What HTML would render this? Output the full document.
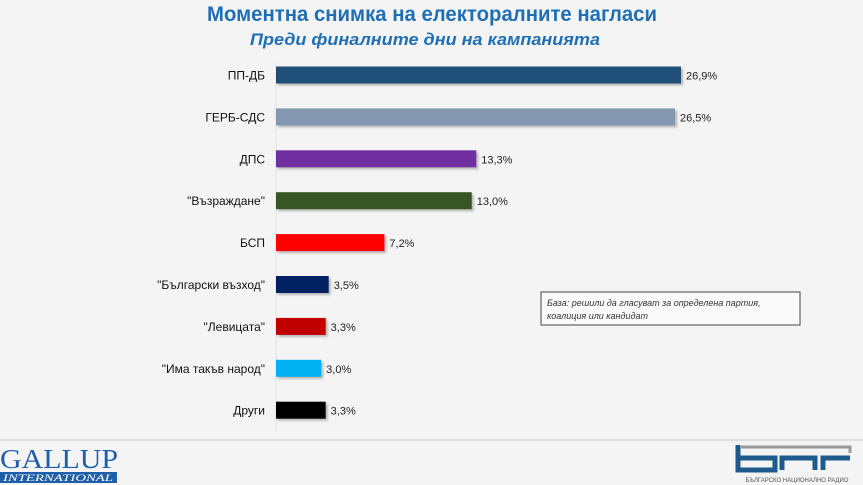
<!DOCTYPE html>
<html><head><meta charset="utf-8"><style>
body{margin:0;background:#f4f4f4;width:863px;height:485px;overflow:hidden;font-family:"Liberation Sans","DejaVu Sans",sans-serif}
svg{display:block}
</style></head><body>
<svg width="863" height="485">
<rect width="863" height="485" fill="#f4f4f4"/>
<text x="432" y="21" text-anchor="middle" font-size="21" font-weight="bold" fill="#1f6fb5" textLength="450" lengthAdjust="spacingAndGlyphs">Моментна снимка на електоралните нагласи</text>
<text x="425" y="45" text-anchor="middle" font-size="17" font-weight="bold" font-style="italic" fill="#1f6fb5" textLength="350" lengthAdjust="spacingAndGlyphs">Преди финалните дни на кампанията</text>
<line x1="276" y1="62" x2="276" y2="432" stroke="#e2e2e2"/>
<g id="bars"></g>
<rect x="541" y="292" width="259" height="33" fill="#fafafa" stroke="#444" stroke-width="1"/>
<text x="547" y="306" font-size="9" font-style="italic" fill="#333">База: решили да гласуват за определена партия,</text>
<text x="547" y="319" font-size="9" font-style="italic" fill="#333">коалиция или кандидат</text>
<line x1="0" y1="440" x2="863" y2="440" stroke="#d8d8d8" stroke-width="1.5"/>
<text x="0" y="468" font-size="27" font-family="Liberation Serif,serif" fill="#1f5ea8" textLength="118" lengthAdjust="spacingAndGlyphs">GALLUP</text>
<rect x="0" y="472" width="117" height="11" fill="#1f5ea8"/>
<text x="3" y="481" font-size="9" font-style="italic" font-family="Liberation Serif,serif" fill="#fff" textLength="110" lengthAdjust="spacingAndGlyphs">INTERNATIONAL</text>
<g fill="none" stroke="#1f5a8c" stroke-width="5">
<path d="M738 445 L738 470 L775 470 L775 458 L740 458"/>
<path d="M782 470 L782 458 L815 458 L815 470"/>
<path d="M823 470 L823 458 L850 458"/>
<path d="M740 447 L850 447 L850 453" stroke="#999" stroke-width="3"/>
</g>
<text x="797" y="482" text-anchor="middle" font-size="6" fill="#555">БЪЛГАРСКО НАЦИОНАЛНО РАДИО</text>
</svg>
<script>
const categories=["ПП-ДБ","ГЕРБ-СДС","ДПС","\"Възраждане\"","БСП","\"Български възход\"","\"Левицата\"","\"Има такъв народ\"","Други"];
const values=[26.9,26.5,13.3,13.0,7.2,3.5,3.3,3.0,3.3];
const labels=["26,9%","26,5%","13,3%","13,0%","7,2%","3,5%","3,3%","3,0%","3,3%"];
const colors=["#1f4e79","#8497b0","#7030a0","#375623","#ff0000","#002060","#c00000","#00b0f0","#000000"];
const x0=276,scale=405/26.9,y0=75,step=41.9,bh=17;
const xs=v=>x0+v*scale, ys=i=>y0+i*step;
const g=document.getElementById('bars'),NS="http://www.w3.org/2000/svg";
values.forEach((v,i)=>{
 const y=ys(i);
 const r=document.createElementNS(NS,'rect');
 r.setAttribute('x',x0);r.setAttribute('y',y-bh/2);r.setAttribute('width',xs(v)-x0);r.setAttribute('height',bh);r.setAttribute('fill',colors[i]);
 r.setAttribute('style','filter:drop-shadow(2px 2px 1px rgba(0,0,0,0.25))');
 
 
 g.appendChild(r);
 const t=document.createElementNS(NS,'text');
 t.setAttribute('x',265);t.setAttribute('y',y+4.5);t.setAttribute('text-anchor','end');t.setAttribute('font-size','12');t.setAttribute('fill','#111');
 t.textContent=categories[i];
 
 
 g.appendChild(t);
 const l=document.createElementNS(NS,'text');
 l.setAttribute('x',xs(v)+5);l.setAttribute('y',y+4.5);l.setAttribute('font-size','11');l.setAttribute('fill','#222');
 l.textContent=labels[i];
 
 
 g.appendChild(l);
});
</script>
</body></html>
